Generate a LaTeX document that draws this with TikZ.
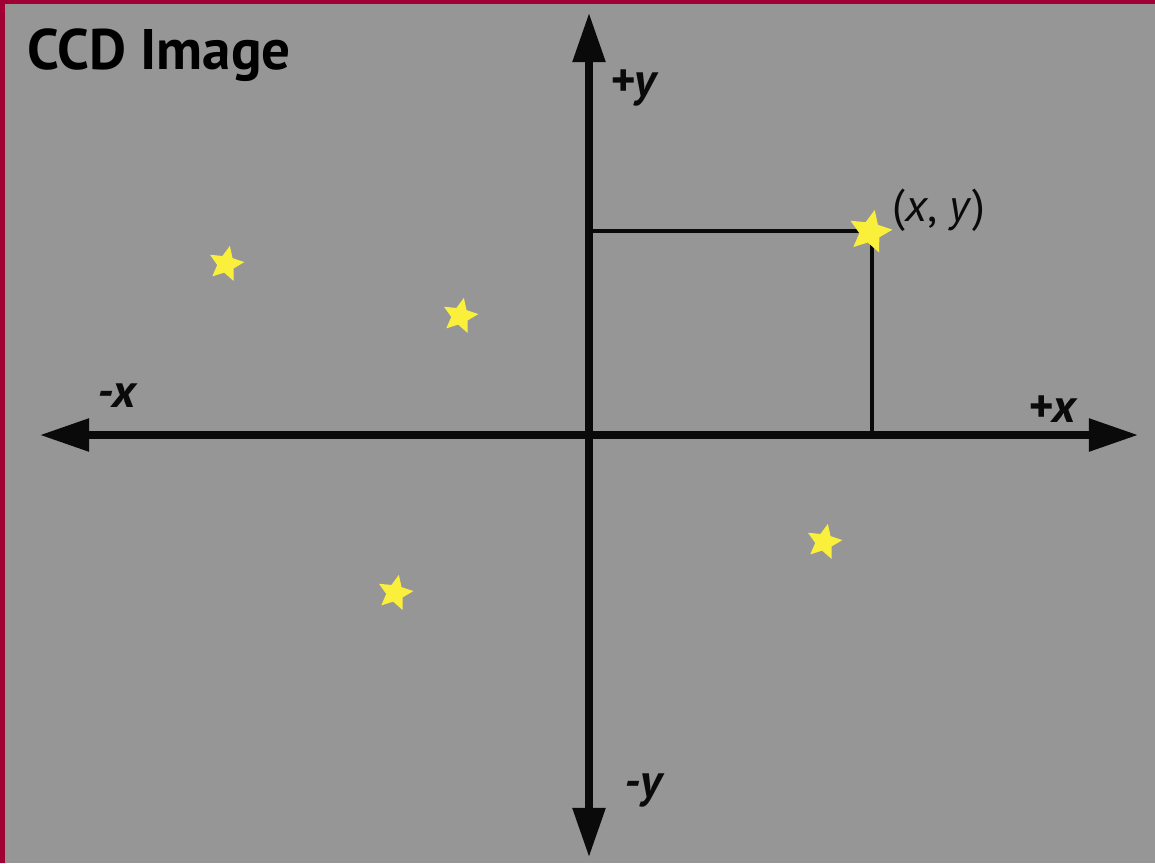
\documentclass[tikz,border=0pt]{standalone}
\usepackage{fontspec}
\setmainfont{PT Sans}
\usepackage{tikz}
\usetikzlibrary{shapes.geometric, arrows.meta, positioning}
\definecolor{ccdgray}{RGB}{150,150,150}
\definecolor{ccdrim}{RGB}{160,0,52}
\definecolor{staryellow}{RGB}{250,240,60}
\definecolor{axisdark}{RGB}{10,10,10}
\tikzset{
  axis/.style={line width=4pt, color=axisdark,
    {Triangle[length=28pt, width=18pt]}-{Triangle[length=28pt, width=18pt]}},
  guide/.style={line width=1.8pt, color=axisdark},
  starnode/.style={star, star points=5, star point ratio=2.1, fill=staryellow,
    inner sep=0pt, minimum size=0.74cm, rotate=-12},
  bigstar/.style={starnode, minimum size=0.9cm},
  axlabel/.style={font=\fontsize{27}{30}\selectfont\bfseries\itshape, color=axisdark,
    inner sep=0pt},
  ptlabel/.style={font=\fontsize{26}{30}\selectfont, color=axisdark, inner sep=0pt}
}
\begin{document}
\begin{tikzpicture}[x=0.02cm, y=-0.02cm]
  % background and border
  \useasboundingbox (0,0) rectangle (1155,863);
  \fill[ccdgray] (0,0) rectangle (1155,863);
  \fill[ccdrim] (0,0) rectangle (1155,4);
  \fill[ccdrim] (0,0) rectangle (5,863);

  \node[font=\fontsize{32.5}{36}\selectfont\bfseries, inner sep=0pt, anchor=west] (title) at (27,55) {CCD Image};

  % axes
  \coordinate (left) at (40,435);
  \coordinate (right) at (1138,435);
  \coordinate (top) at (589,13);
  \coordinate (bottom) at (589,857);
  \draw[axis] (left) -- (right);
  \draw[axis] (bottom) -- (top);

  \node[axlabel] (py) at (633,88) {+y};
  \node[axlabel] (my) at (643,790) {-y};
  \node[axlabel] (mx) at (117,396) {-x};
  \node[axlabel] (px) at (1052,409) {+x};

  % projection lines
  \coordinate (pt) at (870,232);
  \coordinate (yfoot) at (591,231);
  \coordinate (xfoot) at (872,435);
  \draw[guide] (yfoot) -- (yfoot -| pt);
  \draw[guide] (pt -| xfoot) -- (xfoot);

  % stars
  \node[starnode] (s1) at (226,264) {};
  \node[starnode] (s2) at (460,316) {};
  \node[starnode] (s3) at (395,593) {};
  \node[starnode] (s4) at (824,542) {};
  \node[bigstar] (s5) at (pt) {};
  \node[ptlabel, anchor=west] (xy) at (892,210) {(\textit{x}, \textit{y})};
\end{tikzpicture}
\end{document}
